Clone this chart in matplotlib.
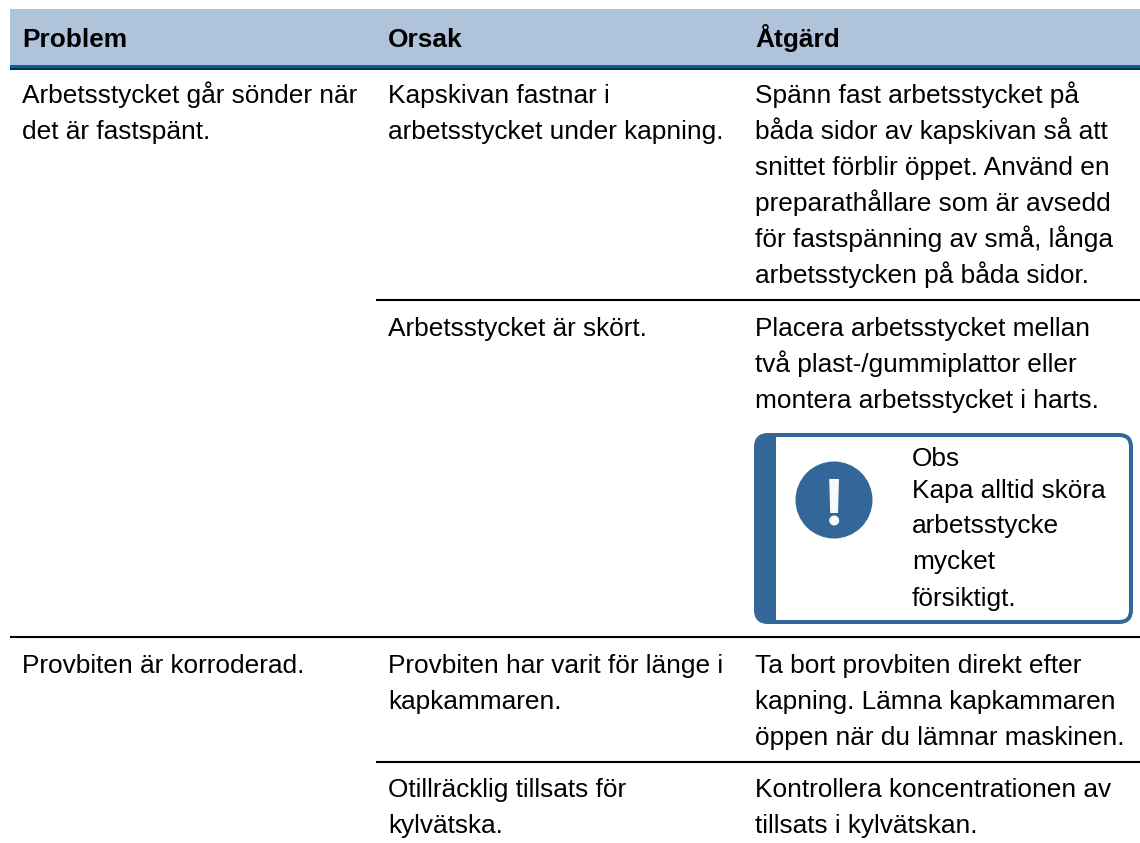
import matplotlib
matplotlib.use('Agg')
import matplotlib.pyplot as plt
import matplotlib.patches as patches

plt.rcParams['font.family'] = ['Liberation Sans', 'DejaVu Sans']

# Tabellens text
HEADERS = ['Problem', 'Orsak', 'Åtgärd']
PROBLEMS = [
    ['Arbetsstycket går sönder när', 'det är fastspänt.'],
    ['Provbiten är korroderad.'],
]
CAUSES = [
    ['Kapskivan fastnar i', 'arbetsstycket under kapning.'],
    ['Arbetsstycket är skört.'],
    ['Provbiten har varit för länge i', 'kapkammaren.'],
    ['Otillräcklig tillsats för', 'kylvätska.'],
]
ACTIONS = [
    ['Spänn fast arbetsstycket på', 'båda sidor av kapskivan så att', 'snittet förblir öppet. Använd en',
     'preparathållare som är avsedd', 'för fastspänning av små, långa', 'arbetsstycken på båda sidor.'],
    ['Placera arbetsstycket mellan', 'två plast-/gummiplattor eller', 'montera arbetsstycket i harts.'],
    ['Ta bort provbiten direkt efter', 'kapning. Lämna kapkammaren', 'öppen när du lämnar maskinen.'],
    ['Kontrollera koncentrationen av', 'tillsats i kylvätskan.'],
]
NOTE = ['Obs', 'Kapa alltid sköra', 'arbetsstycke', 'mycket', 'försiktigt.']

# Layout i pixlar
COL_X = [22, 388, 755]
FONT_SIZE = 18.9
LINE_H = 35.8
HEADER_BG = '#AFC3DB'
NOTE_BLUE = '#336699'


def draw_lines(ax, x, y, lines, line_h=LINE_H, **kw):
    for i, line in enumerate(lines):
        ax.text(x, y + i * line_h, line, fontsize=FONT_SIZE, color='black',
                va='baseline', ha='left', **kw)


def draw_note(ax):
    # ram
    box = patches.FancyBboxPatch((756, 435), 375, 187, boxstyle='round,pad=0,rounding_size=12',
                                 facecolor='white', edgecolor=NOTE_BLUE, linewidth=2.9, zorder=2)
    ax.add_patch(box)
    # tjock vänsterkant
    clip = patches.FancyBboxPatch((754, 433), 379, 191, boxstyle='round,pad=0,rounding_size=18',
                                  facecolor='none', edgecolor='none', zorder=2)
    ax.add_patch(clip)
    band = patches.Rectangle((754, 433), 22, 191, facecolor=NOTE_BLUE, edgecolor='none', zorder=3)
    ax.add_patch(band)
    band.set_clip_path(clip)
    # ikon
    ax.add_patch(patches.Circle((834, 500), 38.5, facecolor=NOTE_BLUE, edgecolor='none', zorder=3))
    ax.add_patch(patches.Polygon([(829.2, 479), (839, 479), (838, 513), (830.2, 513)],
                                 facecolor='#F7F9FB', edgecolor='none', zorder=4))
    ax.add_patch(patches.Circle((834.2, 520.5), 5, facecolor='#F7F9FB', edgecolor='none', zorder=4))
    for y, line in zip([466, 498, 533, 569, 606], NOTE):
        ax.text(912, y, line, fontsize=FONT_SIZE, color='black', va='baseline', ha='left', zorder=5)


def main():
    fig = plt.figure(figsize=(11.4, 8.43), dpi=100)
    ax = fig.add_axes([0, 0, 1, 1])
    ax.set_xlim(0, 1140)
    ax.set_ylim(843, 0)
    ax.axis('off')

    # rubrikrad
    ax.add_patch(patches.Rectangle((10, 9), 1130, 56, facecolor=HEADER_BG, edgecolor='none'))
    ax.add_patch(patches.Rectangle((10, 65), 1130, 3, facecolor='#0860A0', edgecolor='none'))
    ax.add_patch(patches.Rectangle((10, 68), 1130, 2, facecolor='#04304F', edgecolor='none'))
    for x, head in zip(COL_X, HEADERS):
        ax.text(x, 47, head, fontsize=FONT_SIZE, fontweight='bold', color='black', va='baseline')

    # radlinjer
    ax.plot([376, 1140], [299.5, 299.5], color='black', linewidth=1.5, solid_capstyle='butt')
    ax.plot([10, 1140], [636.5, 636.5], color='black', linewidth=1.5, solid_capstyle='butt')
    ax.plot([376, 1140], [761.5, 761.5], color='black', linewidth=1.5, solid_capstyle='butt')

    # kolumner
    for y, lines in zip([103.5, 673], PROBLEMS):
        draw_lines(ax, COL_X[0], y, lines)
    for y, lines in zip([103.5, 336, 673, 797], CAUSES):
        draw_lines(ax, COL_X[1], y, lines)
    for y, lines in zip([103.5, 336, 673, 797], ACTIONS):
        draw_lines(ax, COL_X[2], y, lines)

    draw_note(ax)
    fig.savefig('out.png', dpi=100)


if __name__ == '__main__':
    main()
